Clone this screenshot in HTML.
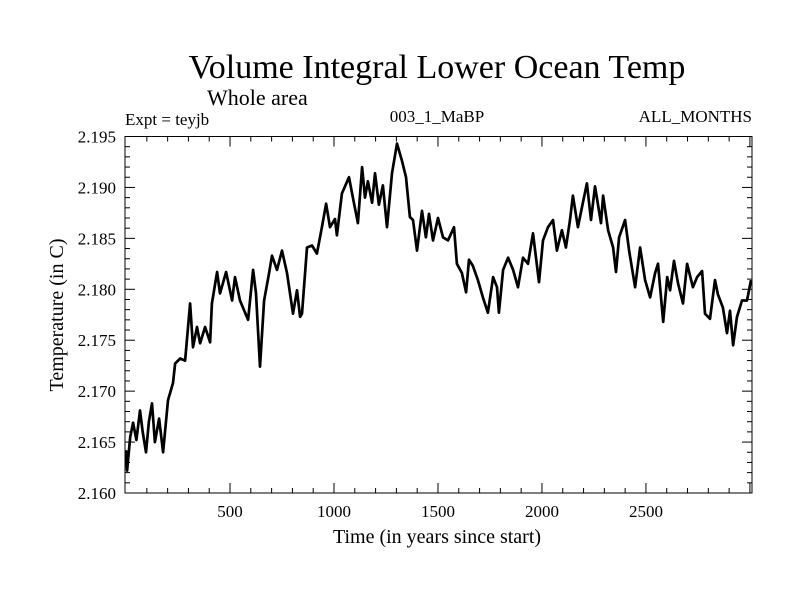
<!DOCTYPE html>
<html><head><meta charset="utf-8"><style>
body{margin:0;background:#fff;}
svg text{font-family:"Liberation Serif",serif;fill:#000;}
</style></head><body>
<svg id="chart" width="800" height="600" viewBox="0 0 800 600" xmlns="http://www.w3.org/2000/svg">
<rect width="800" height="600" fill="#fff"/>
<text x="437" y="78" font-size="34" text-anchor="middle">Volume Integral Lower Ocean Temp</text>
<text x="207" y="105" font-size="22">Whole area</text>
<text x="125" y="125" font-size="17">Expt = teyjb</text>
<text x="437" y="122" font-size="17" text-anchor="middle">003_1_MaBP</text>
<text x="752" y="122" font-size="17" text-anchor="end">ALL_MONTHS</text>
<g id="axes"></g>
<path id="series" fill="none" stroke="#000" stroke-width="2.7" stroke-linejoin="round"/>
<rect x="125" y="136.5" width="627" height="356.5" fill="none" stroke="#000" stroke-width="1"/>
<text x="437" y="543" font-size="20" text-anchor="middle">Time (in years since start)</text>
<text x="0" y="0" font-size="20" text-anchor="middle" transform="translate(63,315) rotate(-90)">Temperature (in C)</text>
</svg>
<script>
const years=[0,5,20,34,50,67,80,96,110,125,139,159,178,202,226,236,260,284,308,322,341,356,380,404,413,438,452,481,510,524,548,587,611,625,644,664,688,702,726,750,774,803,822,837,846,870,894,918,942,962,981,1005,1014,1038,1072,1091,1115,1135,1149,1163,1183,1197,1216,1235,1255,1279,1303,1327,1346,1365,1380,1399,1423,1442,1457,1476,1500,1524,1548,1577,1591,1615,1635,1649,1668,1692,1716,1740,1765,1784,1793,1813,1837,1861,1885,1909,1933,1957,1986,2005,2029,2053,2072,2096,2115,2135,2149,2173,2197,2216,2236,2255,2284,2294,2318,2342,2356,2371,2400,2419,2448,2472,2496,2520,2544,2558,2583,2602,2616,2635,2654,2678,2698,2726,2746,2770,2784,2808,2832,2846,2870,2890,2904,2919,2938,2962,2986,3005];
const temps=[2.1642,2.1622,2.1655,2.1669,2.1652,2.1681,2.1660,2.1640,2.1670,2.1688,2.1650,2.1673,2.1640,2.1691,2.1708,2.1727,2.1732,2.1730,2.1786,2.1743,2.1763,2.1747,2.1763,2.1748,2.1786,2.1817,2.1796,2.1817,2.1789,2.1812,2.1789,2.1770,2.1819,2.1796,2.1724,2.1789,2.1816,2.1833,2.1819,2.1838,2.1816,2.1776,2.1799,2.1773,2.1776,2.1841,2.1843,2.1835,2.1861,2.1884,2.1861,2.1869,2.1853,2.1894,2.1910,2.1890,2.1865,2.1920,2.1890,2.1906,2.1885,2.1914,2.1883,2.1902,2.1861,2.1914,2.1943,2.1926,2.1910,2.1871,2.1868,2.1838,2.1877,2.1851,2.1874,2.1848,2.1870,2.1851,2.1848,2.1861,2.1825,2.1816,2.1797,2.1829,2.1823,2.1809,2.1792,2.1777,2.1812,2.1802,2.1777,2.1819,2.1831,2.1819,2.1802,2.1831,2.1825,2.1855,2.1807,2.1848,2.1861,2.1868,2.1838,2.1858,2.1841,2.1868,2.1892,2.1861,2.1885,2.1904,2.1868,2.1901,2.1865,2.1892,2.1858,2.1841,2.1817,2.1851,2.1868,2.1838,2.1802,2.1841,2.1809,2.1792,2.1816,2.1825,2.1768,2.1812,2.1799,2.1828,2.1806,2.1786,2.1825,2.1802,2.1812,2.1818,2.1776,2.1771,2.1809,2.1795,2.1782,2.1757,2.1779,2.1745,2.1773,2.1789,2.1789,2.1809];
const xTicks=[500,1000,1500,2000,2500];
const yTicks=[2.160,2.165,2.170,2.175,2.180,2.185,2.190,2.195];
const X0=125,X1=752,Y0=493,Y1=136.5,XMIN=-5,XMAX=3010,YMIN=2.160,YMAX=2.195;
function xs(v){return X0+(v-XMIN)/(XMAX-XMIN)*(X1-X0);}
function ys(v){return Y0-(v-YMIN)/(YMAX-YMIN)*(Y0-Y1);}
const NS='http://www.w3.org/2000/svg';
const ax=document.getElementById('axes');
function line(x1,y1,x2,y2){const l=document.createElementNS(NS,'line');l.setAttribute('x1',x1);l.setAttribute('y1',y1);l.setAttribute('x2',x2);l.setAttribute('y2',y2);l.setAttribute('stroke','#000');l.setAttribute('stroke-width','1');


ax.appendChild(l);}
for(let v=100;v<XMAX;v+=100){const x=xs(v);const L=(v%500===0)?10:5;line(x,Y0,x,Y0-L);line(x,Y1,x,Y1+L);}
for(let i=0;i<=35;i++){const v=YMIN+i*0.001;const y=ys(v);const L=(i%5===0)?10:5;line(X0,y,X0+L,y);line(X1,y,X1-L,y);}
xTicks.forEach(v=>{const t=document.createElementNS(NS,'text');t.setAttribute('x',xs(v));t.setAttribute('y',Y0+24);t.setAttribute('font-size','17');t.setAttribute('text-anchor','middle');t.textContent=v;


ax.appendChild(t);});
yTicks.forEach(v=>{const t=document.createElementNS(NS,'text');t.setAttribute('x',X0-9);t.setAttribute('y',ys(v)+6);t.setAttribute('font-size','17');t.setAttribute('text-anchor','end');t.textContent=v.toFixed(3);


ax.appendChild(t);});
let d='';years.forEach((yr,i)=>{d+=(i?'L':'M')+xs(yr).toFixed(1)+','+ys(temps[i]).toFixed(1);});
document.getElementById('series').setAttribute('d',d);
</script>
</body></html>
